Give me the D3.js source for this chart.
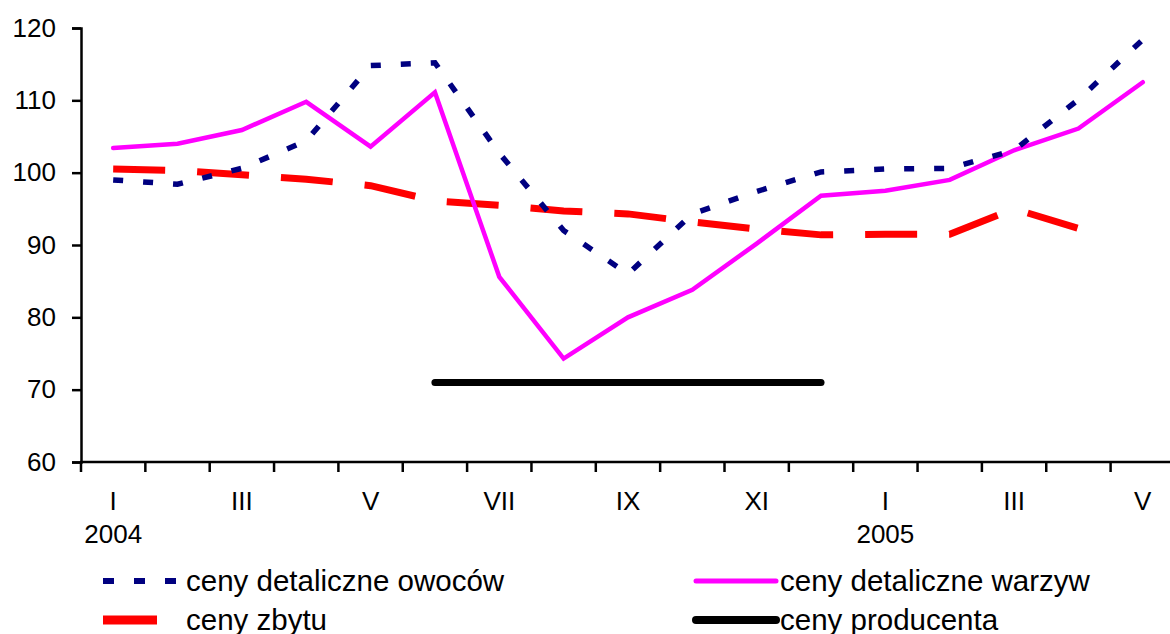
<!DOCTYPE html>
<html>
<head>
<meta charset="utf-8">
<script src="https://cdn.jsdelivr.net/npm/d3@7"></script>
<style>
  body { margin: 0; background: #fff; }
  svg { display: block; font-family: "Liberation Sans", Arial, sans-serif; }
</style>
</head>
<body>
<script>
// miesiace I 2004 - V 2005
var months = ["I","II","III","IV","V","VI","VII","VIII","IX","X","XI","XII","I","II","III","IV","V"];
var monthLabels = ["I","","III","","V","","VII","","IX","","XI","","I","","III","","V"];
var yearLabels = ["2004","","","","","","","","","","","","2005","","","",""];
var yTicks = [60, 70, 80, 90, 100, 110, 120];

var owoce = [99.0, 98.4, 100.6, 104.4, 114.8, 115.2, 102.7, 92.0, 86.0, 94.3, 97.4, 100.1, 100.5, 100.6, 103.1, 110.1, 118.4];
var warzywa = [103.4, 104.0, 105.9, 109.8, 103.6, 111.1, 85.6, 74.3, 80.0, 83.8, 90.2, 96.8, 97.5, 99.0, 103.1, 106.1, 112.5];
var zbyt = [100.5, 100.3, 99.7, 99.1, 98.2, 96.1, 95.5, 94.7, 94.3, 93.2, 92.2, 91.4, 91.5, 91.5, 95.0, 92.3, null];
var producent = [null, null, null, null, null, 71, 71, 71, 71, 71, 71, 71, null, null, null, null, null];

var width = 1170, height = 634;
var mLeft = 81, mTop = 28, mBottom = 462;

var svg = d3.select("body").append("svg")
    .attr("width", width)
    .attr("height", height);

var idx = d3.range(months.length);
var x = d3.scaleBand().domain(idx).range([mLeft, mLeft + 17 * 64.35]);
var y = d3.scaleLinear().domain([60, 120]).range([mBottom, mTop]);

function cx(i) { return x(i) + x.bandwidth() / 2; }

// os Y
var yAxis = svg.append("g")
    .attr("transform", "translate(" + mLeft + ",0)")
    .call(d3.axisLeft(y).tickValues(yTicks).tickSize(9).tickPadding(16));

yAxis.attr("font-family", null).attr("font-size", null);
yAxis.select(".domain").attr("stroke-width", 2.5);
yAxis.selectAll(".tick line").attr("stroke-width", 2.5);
yAxis.selectAll(".tick text").attr("font-size", 26).attr("fill", "#000");

// os X (kreski na granicach miesiecy)
var xAxis = svg.append("g")
    .attr("transform", "translate(0," + mBottom + ")");
xAxis.append("line")
    .attr("x1", mLeft - 1).attr("x2", width)
    .attr("stroke", "#000").attr("stroke-width", 2.5);
xAxis.selectAll(".tk")
    .data(d3.range(months.length + 1).filter(function(i){ return x.step() * i + mLeft <= width; }))
    .enter().append("line")
    .attr("x1", function(i){ return mLeft + x.step() * i; })
    .attr("x2", function(i){ return mLeft + x.step() * i; })
    .attr("y1", 0).attr("y2", 10)
    .attr("stroke", "#000").attr("stroke-width", 2.5);
xAxis.selectAll(".ml")
    .data(idx)
    .enter().append("text")
    .attr("x", cx)
    .attr("y", 48)
    .attr("text-anchor", "middle")
    .attr("font-size", 26)
    .text(function(i){ return monthLabels[i]; });
xAxis.selectAll(".yl")
    .data(idx)
    .enter().append("text")
    .attr("x", cx)
    .attr("y", 81)
    .attr("text-anchor", "middle")
    .attr("font-size", 26)
    .text(function(i){ return yearLabels[i]; });

var line = d3.line()
    .defined(function(d){ return d != null; })
    .x(function(d, i){ return cx(i); })
    .y(function(d){ return y(d); });

var series = [
  {name: "ceny zbytu", values: zbyt, color: "#ff0000", w: 7, dash: "52,32", cap: "butt"},
  {name: "ceny detaliczne warzyw", values: warzywa, color: "#ff00ff", w: 4.5, dash: null, cap: "round"},
  {name: "ceny detaliczne owoców", values: owoce, color: "#000080", w: 5.5, dash: "10,20", cap: "butt"},
  {name: "ceny producenta", values: producent, color: "#000000", w: 7, dash: null, cap: "round"}
];

svg.selectAll(".series")
    .data(series)
    .enter().append("path")
    .attr("d", function(s){ return line(s.values); })
    .attr("fill", "none")
    .attr("stroke", function(s){ return s.color; })
    .attr("stroke-width", function(s){ return s.w; })
    .attr("stroke-dasharray", function(s){ return s.dash; })
    .attr("stroke-linecap", function(s){ return s.cap; })
    .attr("stroke-linejoin", "miter");

// legenda
var legend = [
  {name: "ceny detaliczne owoców", x: 103, len: 75, y: 581, color: "#000080", w: 6, dash: "11,20", cap: "butt"},
  {name: "ceny detaliczne warzyw", x: 696, len: 80, y: 581, color: "#ff00ff", w: 5, dash: null, cap: "round"},
  {name: "ceny zbytu", x: 103, len: 54, y: 620, color: "#ff0000", w: 9, dash: null, cap: "butt"},
  {name: "ceny producenta", x: 696, len: 80, y: 620, color: "#000000", w: 8, dash: null, cap: "round"}
];
var lg = svg.selectAll(".lg").data(legend).enter().append("g");
lg.append("line")
    .attr("x1", function(d){ return d.x; })
    .attr("x2", function(d){ return d.x + d.len; })
    .attr("y1", function(d){ return d.y; })
    .attr("y2", function(d){ return d.y; })
    .attr("stroke", function(d){ return d.color; })
    .attr("stroke-width", function(d){ return d.w; })
    .attr("stroke-dasharray", function(d){ return d.dash; })
    .attr("stroke-linecap", function(d){ return d.cap; });
lg.append("text")
    .attr("x", function(d){ return d.x < 400 ? 186 : 780; })
    .attr("y", function(d){ return d.y + 10; })
    .attr("font-size", 29.5)
    .text(function(d){ return d.name; });
</script>
</body>
</html>
